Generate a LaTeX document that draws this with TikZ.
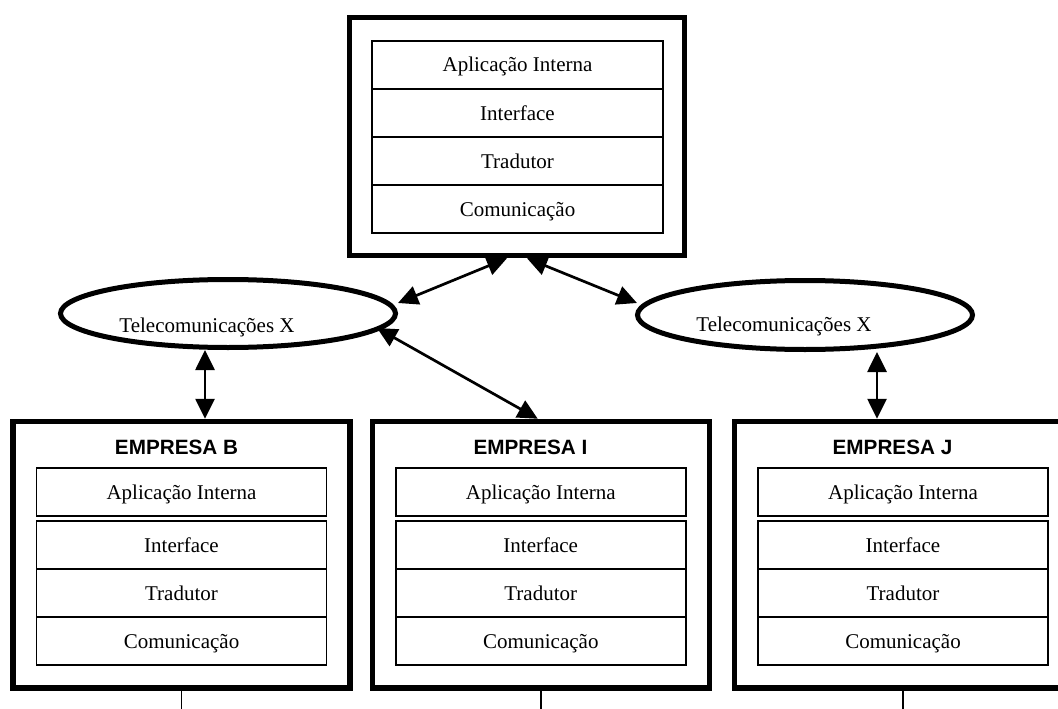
\documentclass[tikz,border=0pt]{standalone}
\usepackage{fontspec}
\setmainfont{Liberation Serif}
\setsansfont{Liberation Sans}
\usetikzlibrary{arrows.meta,shapes.geometric,calc}

\begin{document}
\begin{tikzpicture}[x=1pt,y=-1pt,
  frame/.style={draw, line width=5.5pt, rectangle, inner sep=0pt},
  layer/.style={draw, line width=1.5pt, rectangle, inner sep=0pt,
    minimum width=290pt, minimum height=48pt, text height=16pt, text depth=2pt,
    font=\fontsize{21}{24}\selectfont},
  net/.style={draw, ellipse, line width=5pt, inner sep=0pt,
    minimum width=335pt, minimum height=68pt},
  nettext/.style={anchor=base, inner sep=0pt, font=\fontsize{21}{24}\selectfont},
  title/.style={anchor=base, inner sep=0pt, font=\sffamily\bfseries\fontsize{20.7}{24}\selectfont},
  link/.style={line width=2.7pt,
    {Triangle[length=20pt,width=19pt]}-{Triangle[length=20pt,width=19pt]}},
  stub/.style={line width=1.5pt}]

\clip (0,0) rectangle (1058,709);
\fill[white] (0,0) rectangle (1058,709);

% central company
\node[frame, minimum width=335pt, minimum height=238pt] (top) at (517,136.5) {};
\node[layer, minimum width=291pt] (t1) at (517.5,65)  {Aplicação Interna};
\node[layer, minimum width=291pt] (t2) at (517.5,113) {Interface};
\node[layer, minimum width=291pt] (t3) at (517.5,161) {Tradutor};
\node[layer, minimum width=291pt] (t4) at (517.5,209) {Comunicação};

% telecom networks
\node[net] (telL) at (228,313.5) {};
\node[nettext] (telLtxt) at (207,332) {Telecomunicações X};
\node[net, minimum height=69pt] (telR) at (805,315) {};
\node[nettext] (telRtxt) at (784,331) {Telecomunicações X};

% partner companies
\foreach \n/\cx/\tx in {B/181.5/176.5, I/540.75/530.5, J/903/892.5} {
  \node[frame, minimum width=337pt, minimum height=266.5pt] (box\n) at (\cx,554.75) {};
  \node[title] (title\n) at (\tx,454) {EMPRESA \n};
  \node[layer] (\n1) at (\cx,492) {Aplicação Interna};
  \node[layer] (\n2) at (\cx,545) {Interface};
  \node[layer] (\n3) at (\cx,593) {Tradutor};
  \node[layer] (\n4) at (\cx,641) {Comunicação};
}

% connection points
\coordinate (topL) at ($(top.south)+(-10,0)$);
\coordinate (topR) at ($(top.south)+(10,0)$);
\coordinate (telLup) at ($(telL.east)+(0,-10.5)$);
\coordinate (telLdn) at ($(telL.east)+(-21,14.5)$);
\coordinate (telRup) at ($(telR.west)+(2,-12)$);
\coordinate (iTop) at ($(boxI.north)+(-3,0)$);
\coordinate (bTop) at ($(telL.south)+(-23,0)$);
\coordinate (jTop) at ($(telR.south)+(72,0)$);
\coordinate (floor) at (0,709);

% links
\draw[link] (topL) -- (telLup);
\draw[link] (topR) -- (telRup);
\draw[link] (telLdn) -- (iTop);
\draw[link] (bTop) -- (bTop |- boxB.north);
\draw[link] (jTop) -- (jTop |- boxJ.north);

% lines leaving each partner
\draw[stub] (boxB.south) -- (boxB.south |- floor);
\draw[stub] (boxI.south) -- (boxI.south |- floor);
\draw[stub] (boxJ.south) -- (boxJ.south |- floor);
\end{tikzpicture}
\end{document}
